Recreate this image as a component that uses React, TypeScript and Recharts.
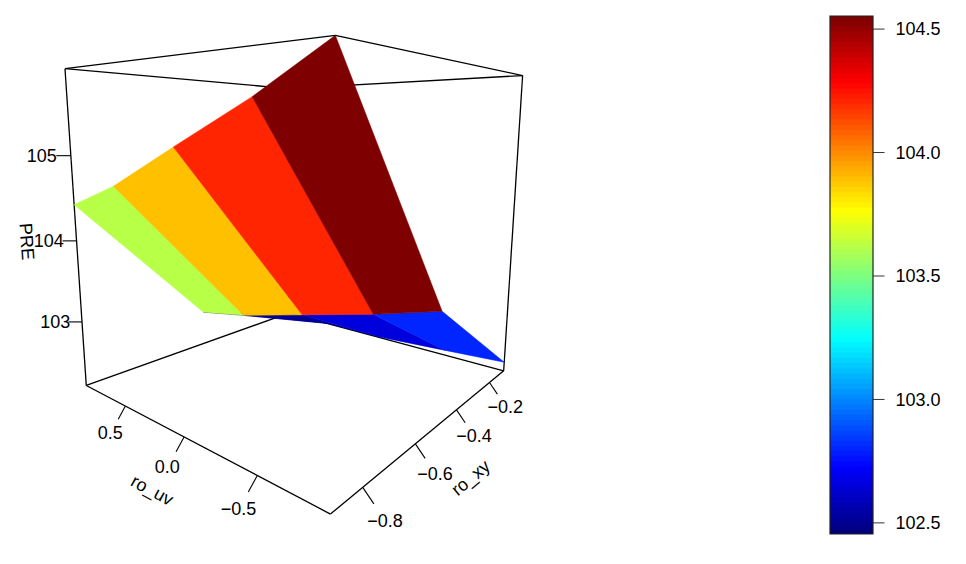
import React from "react";
import { ScatterChart, Scatter, XAxis, YAxis, ComposedChart, ReferenceArea } from "recharts";

// ---- data ----
const roUv = [-0.9, -0.5, 0, 0.5, 0.9];
const roXy = [-0.9, -0.5, -0.1];
const preAtXyM09 = [105.97, 105.57, 105.14, 104.7, 104.43];
const preAtXyM05 = [103.46, 103.25, 103.02, 102.79, 102.66];
const preAtXyM01 = [102.3, 102.25, 102.19, 102.18, 102.18];
const preRows = [preAtXyM09, preAtXyM05, preAtXyM01];
// colour value of each facet
const facetPreUpper = [104.56, 104.205, 103.9, 103.61];
const facetPreLower = [102.8, 102.66, 102.5, 102.46];
const facetRows = [facetPreUpper, facetPreLower];

const uvTicks = [0.5, 0, -0.5];
const xyTicks = [-0.8, -0.6, -0.4, -0.2];
const preTicks = [103, 104, 105];
const colorbarTicks = [102.5, 103, 103.5, 104, 104.5];
const uvLim = [-0.9, 0.9];
const xyLim = [-0.9, -0.1];
const preLim = [102.18, 105.97];
const colorLim = [102.455, 104.553];
const jetStops = ["#00007F", "#0000FF", "#007FFF", "#00FFFF", "#7FFF7F", "#FFFF00", "#FF7F00", "#FF0000", "#7F0000"];
const binCount = 100;

// ---- camera (projective map of the plot box onto the picture) ----
const O = [329.3, 514, 1];
const A = [86, 385.7, 1];
const B = [503.3, 370.5, 1];
const C = [334, 35, 1];
const wa = 1.4955;
const wb = 1.6048;
const wc = 0.864;

const toU = (uv: number) => 0.5008 + 0.5578 * uv;
const toV = (xy: number) => 0.1273 + 1.2475 * (xy + 0.8);
const toT = (z: number) => 0.2155 + 0.264 * (z - 103);

function project(uv: number, xy: number, z: number) {
  const u = toU(uv), v = toV(xy), t = toT(z);
  const h = [0, 1, 2].map((i) => O[i] + u * (wa * A[i] - O[i]) + v * (wb * B[i] - O[i]) + t * (wc * C[i] - O[i]));
  return { x: h[0] / h[2], y: h[1] / h[2], w: h[2] };
}

// ---- colours ----
const hex = (s: string) => [1, 3, 5].map((i) => parseInt(s.slice(i, i + 2), 16));
function jet(f: number) {
  const p = Math.max(0, Math.min(1, f)) * (jetStops.length - 1);
  const i = Math.min(Math.floor(p), jetStops.length - 2);
  const a = hex(jetStops[i]), b = hex(jetStops[i + 1]);
  const c = a.map((q, k) => Math.round(q + (b[k] - q) * (p - i)));
  return `rgb(${c[0]},${c[1]},${c[2]})`;
}
function binColor(value: number) {
  const f = (value - colorLim[0]) / (colorLim[1] - colorLim[0]);
  const bin = Math.min(binCount - 1, Math.max(0, Math.floor(f * binCount)));
  return jet(bin / (binCount - 1));
}

// ---- derived tables for the library ----
type Pt = { x: number; y: number; label?: string };

const facets: { color: string; pts: Pt[] }[] = [];
for (let r = roXy.length - 2; r >= 0; r--) {
  for (let c = roUv.length - 2; c >= 0; c--) {
    const corners: [number, number][] = [[r, c], [r, c + 1], [r + 1, c + 1], [r + 1, c]];
    facets.push({
      color: binColor(facetRows[r][c]),
      pts: corners.map(([i, j]) => {
        const p = project(roUv[j], roXy[i], preRows[i][j]);
        return { x: p.x, y: p.y };
      }),
    });
  }
}

const corner = (iu: number, ix: number, iz: number) => {
  const p = project(uvLim[iu], xyLim[ix], preLim[iz]);
  return { x: p.x, y: p.y };
};
// edges behind the surface, then edges in front of it
const backEdges: Pt[][] = [
  [corner(1, 0, 1), corner(1, 1, 1)],
  [corner(1, 1, 1), corner(0, 1, 1)],
  [corner(1, 0, 0), corner(1, 1, 0)],
  [corner(1, 1, 0), corner(0, 1, 0)],
  [corner(1, 1, 0), corner(1, 1, 1)],
  [corner(1, 0, 0), corner(1, 0, 1)],
  [corner(0, 1, 0), corner(0, 1, 1)],
];
const frontEdges: Pt[][] = [
  [corner(1, 0, 1), corner(0, 0, 1)],
  [corner(0, 0, 1), corner(0, 1, 1)],
  [corner(1, 0, 0), corner(0, 0, 0)],
  [corner(0, 0, 0), corner(0, 1, 0)],
];

const tickMarks: Pt[][] = [];
const labels: Pt[] = [];
const fmt = (v: number) => v.toFixed(1).replace("-", "\u2212");
uvTicks.forEach((v) => {
  const p = project(v, xyLim[0], preLim[0]);
  tickMarks.push([{ x: p.x, y: p.y }, { x: p.x - 10 / p.w, y: p.y + 18.4 / p.w }]);
  labels.push({ x: p.x - 21 / p.w, y: p.y + 37 / p.w, label: fmt(v) });
});
xyTicks.forEach((v) => {
  const p = project(uvLim[0], v, preLim[0]);
  tickMarks.push([{ x: p.x, y: p.y }, { x: p.x + 12 / p.w, y: p.y + 17.8 / p.w }]);
  labels.push({ x: p.x + 24 / p.w, y: p.y + 36 / p.w, label: fmt(v) });
});
preTicks.forEach((v) => {
  const p = project(uvLim[1], xyLim[0], v);
  const len = 13 + 2 * toT(v);
  tickMarks.push([{ x: p.x, y: p.y }, { x: p.x - len, y: p.y }]);
  labels.push({ x: p.x - 2 * len, y: p.y, label: String(v) });
});

const titleUvBase = project(0, xyLim[0], preLim[0]);
const titleXyBase = project(uvLim[0], -0.5, preLim[0]);
const titlePreBase = project(uvLim[1], xyLim[0], 104);
const titles = [
  { x: titleUvBase.x - 31.6, y: titleUvBase.y + 53, label: "ro_uv", angle: 28 },
  { x: titleXyBase.x + 33.3, y: titleXyBase.y + 51.6, label: "ro_xy", angle: -40 },
  { x: titlePreBase.x - 49.3, y: titlePreBase.y + 0.7, label: "PRE", angle: 86 },
];

// each band runs to the top of the bar and is painted over by the next one, so no seams show
const bins = Array.from({ length: binCount }, (_, i) => ({
  y1: colorLim[0] + ((colorLim[1] - colorLim[0]) * i) / binCount,
  color: jet(i / (binCount - 1)),
}));

const FONT = "'Liberation Sans', Arial, sans-serif";
const FS = 18;
const noDot = () => <g />;

const polygonLine = (color: string) => (props: any) => (
  <polygon
    points={props.points.map((q: Pt) => `${q.x},${q.y}`).join(" ")}
    fill={color}
    stroke={color}
    strokeWidth={0.5}
  />
);
const segmentLine = (width: number) => (props: any) => (
  <polyline
    points={props.points.map((q: Pt) => `${q.x},${q.y}`).join(" ")}
    fill="none"
    stroke="#000"
    strokeWidth={width}
  />
);

const labelShape = (props: any) => (
  <text x={props.cx} y={props.cy} dy="0.36em" textAnchor="middle" fontFamily={FONT} fontSize={FS} fill="#000">
    {props.payload.label}
  </text>
);
const titleShape = (props: any) => (
  <text
    x={props.cx}
    y={props.cy}
    dy="0.36em"
    textAnchor="middle"
    fontFamily={FONT}
    fontSize={FS}
    fill="#000"
    transform={`rotate(${props.payload.angle} ${props.cx} ${props.cy})`}
  >
    {props.payload.label}
  </text>
);

export default function App() {
  return (
    <div style={{ position: "absolute", left: 0, top: 0, width: 966, height: 564, background: "#fff", overflow: "hidden" }}>
      <div style={{ position: "absolute", left: 0, top: 0 }}>
        <ScatterChart width={966} height={564} margin={{ top: 0, right: 0, bottom: 0, left: 0 }}>
          <XAxis type="number" dataKey="x" domain={[0, 966]} hide />
          <YAxis type="number" dataKey="y" domain={[0, 564]} reversed hide />
          {backEdges.map((e, i) => (
            <Scatter key={`b${i}`} data={e} isAnimationActive={false} shape={noDot} line={segmentLine(1.3)} />
          ))}
          {facets.map((f, i) => (
            <Scatter key={`f${i}`} data={f.pts} isAnimationActive={false} shape={noDot} line={polygonLine(f.color)} />
          ))}
          {frontEdges.map((e, i) => (
            <Scatter key={`e${i}`} data={e} isAnimationActive={false} shape={noDot} line={segmentLine(1.3)} />
          ))}
          {tickMarks.map((e, i) => (
            <Scatter key={`t${i}`} data={e} isAnimationActive={false} shape={noDot} line={segmentLine(1.1)} />
          ))}
          <Scatter data={labels} isAnimationActive={false} shape={labelShape} />
          <Scatter data={titles} isAnimationActive={false} shape={titleShape} />
        </ScatterChart>
      </div>
      <div style={{ position: "absolute", left: 820, top: 0 }}>
        <ComposedChart width={146} height={564} margin={{ top: 16, right: 0, bottom: 30, left: 10 }} data={[{ v: 0 }]}>
          <XAxis type="number" domain={[0, 1]} hide />
          <YAxis
            type="number"
            orientation="right"
            width={93}
            domain={colorLim}
            ticks={colorbarTicks}
            allowDataOverflow
            axisLine={false}
            tickSize={11.5}
            tickMargin={11}
            tickLine={{ stroke: "#333", strokeWidth: 1 }}
            tick={{ fontFamily: FONT, fontSize: FS, fill: "#000" }}
            tickFormatter={(v: number) => v.toFixed(1)}
          />
          {bins.map((b, i) => (
            <ReferenceArea key={i} y1={b.y1} y2={colorLim[1]} fill={b.color} fillOpacity={1} stroke="none" ifOverflow="visible" />
          ))}
          <ReferenceArea y1={colorLim[0]} y2={colorLim[1]} fill="none" stroke="#222" strokeWidth={1.2} ifOverflow="visible" />
        </ComposedChart>
      </div>
    </div>
  );
}
